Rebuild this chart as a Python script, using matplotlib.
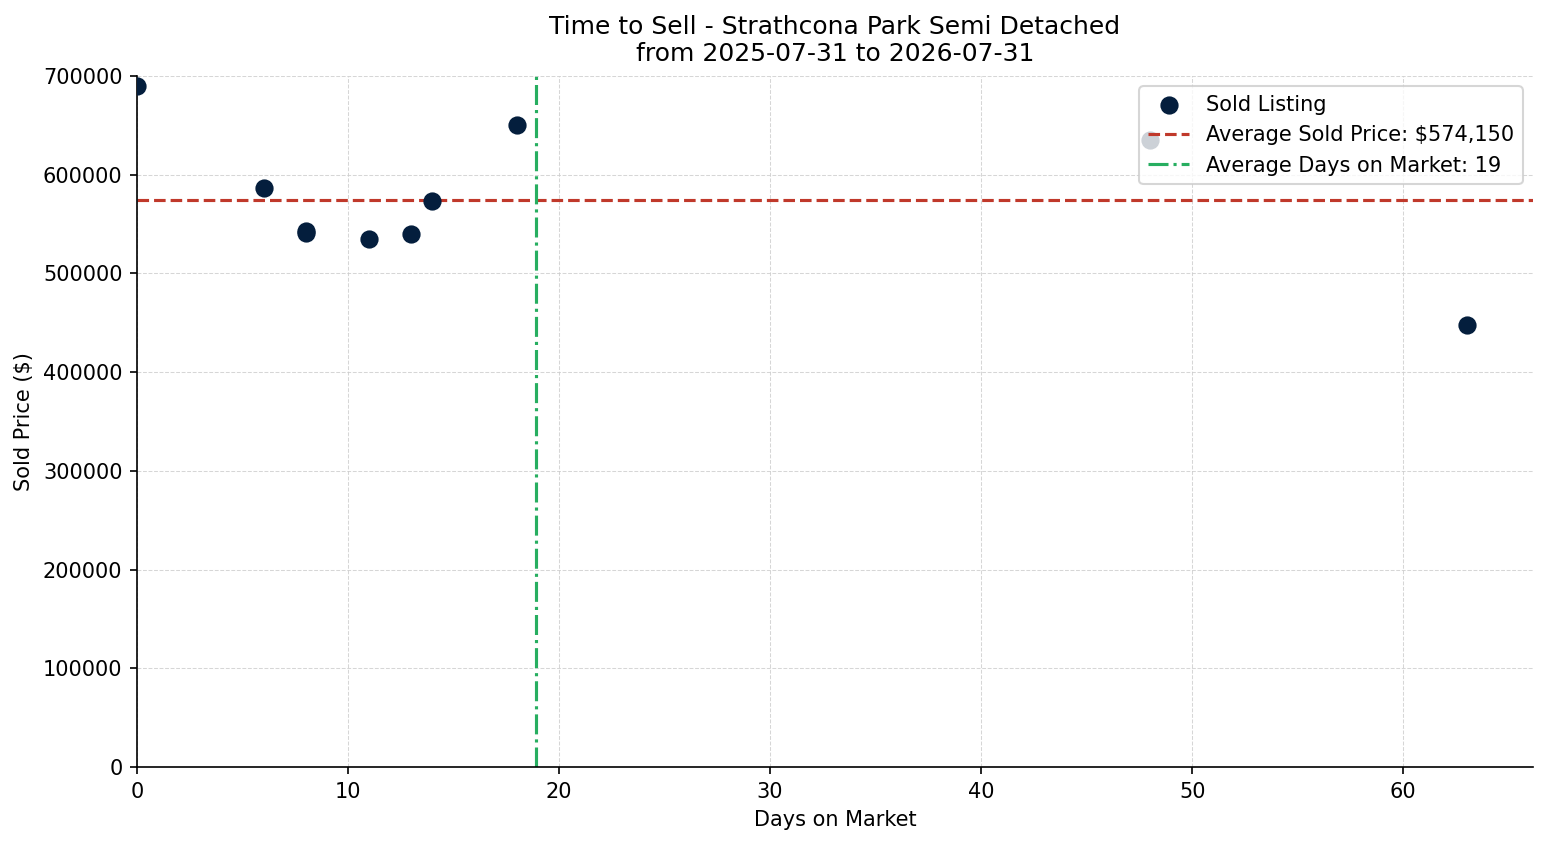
import matplotlib
matplotlib.use("Agg")
import matplotlib.pyplot as plt
import numpy as np

days_on_market = [0, 6, 8, 8, 11, 13, 14, 18, 48, 63]
sold_prices = [690000, 586500, 541000, 543000, 535000, 540000, 573000, 650000, 635000, 448000]
title = "Time to Sell - Strathcona Park Semi Detached\nfrom 2025-07-31 to 2026-07-31"

avg_price = np.mean(sold_prices)
avg_days = np.mean(days_on_market)

DPI = 150
fig = plt.figure(figsize=(1547 / DPI, 845 / DPI), dpi=DPI)
ax = fig.add_axes([137 / 1547, 1 - 767 / 845, (1533 - 137) / 1547, (767 - 76) / 845])

ax.scatter(days_on_market, sold_prices, s=60, color="#041e3d", label="Sold Listing", zorder=3)
ax.axhline(avg_price, color="#c0392b", linestyle="--", linewidth=1.5,
           label=f"Average Sold Price: ${avg_price:,.0f}", zorder=2)
ax.axvline(avg_days, color="#27ae60", linestyle="-.", linewidth=1.5,
           label=f"Average Days on Market: {avg_days:.0f}", zorder=2)

ax.set_xlim(0, max(days_on_market) * 1.05)
ax.set_ylim(0, 700000)
ax.set_title(title, fontsize=12, pad=7)
ax.set_xlabel("Days on Market")
ax.set_ylabel("Sold Price ($)")
ax.grid(True, linestyle="--", linewidth=0.5, color="#cccccc", alpha=0.8)
ax.set_axisbelow(True)
ax.spines["top"].set_visible(False)
ax.spines["right"].set_visible(False)
ax.legend(loc="upper right")

fig.savefig("out.png", dpi=DPI)
